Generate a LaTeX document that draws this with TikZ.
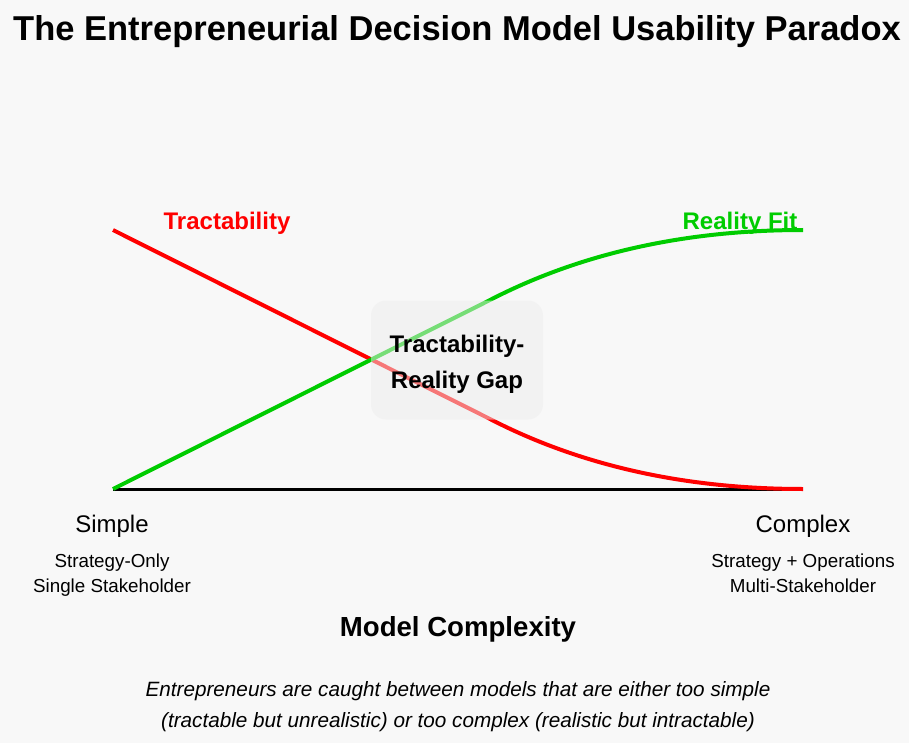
\documentclass[tikz,border=0pt]{standalone}
\usepackage{fontspec}
\setmainfont{Liberation Sans}
\usepackage{tikz}
\usetikzlibrary{positioning, calc}
\definecolor{bgcol}{HTML}{F8F8F8}
\definecolor{fitgreen}{HTML}{00CC00}
\definecolor{gapfill}{HTML}{EEEEEE}

\tikzset{
  curve/.style={line width=4pt},
  endlabel/.style={font=\fontsize{24}{28}\selectfont},
  sublabel/.style={font=\fontsize{18.8}{25}\selectfont, align=center},
}

\begin{document}
\begin{tikzpicture}[x=1pt, y=-1pt]
  \fill[bgcol] (0,0) rectangle (909,743);
  \useasboundingbox (0,0) rectangle (909,743);
  \node[font=\fontsize{34.5}{40}\selectfont\bfseries] (title) at (457,32)
    {The Entrepreneurial Decision Model Usability Paradox};

  % curve labels (under the curves)
  \node[font=\fontsize{24}{28}\selectfont\bfseries, text=red] (tlabel) at (227,223) {Tractability};
  \node[font=\fontsize{24}{28}\selectfont\bfseries, text=fitgreen] (flabel) at (740,223) {Reality Fit};

  % axis end points
  \coordinate (lo) at (113,489);
  \coordinate (hi) at (803,489);
  \coordinate (ltop) at (113,230);
  \coordinate (rtop) at (803,230);
  \draw[line width=3pt] (lo) -- (hi);

  % tractability falls, reality fit rises
  \draw[curve, red] (ltop) -- (490,419) .. controls (581,466) and (686,489) .. (hi);
  \draw[curve, fitgreen] (lo) -- (490,300) .. controls (581,253) and (686,230) .. (rtop);

  % gap box
  \node[draw=none, fill=gapfill, fill opacity=0.5, rounded corners=15pt,
        minimum width=172pt, minimum height=119pt] (gap) at (457,360) {};
  \node[font=\fontsize{24}{36}\selectfont\bfseries, align=center] (gaptext) at ([yshift=-4pt]gap.center) {Tractability-\\Reality Gap};

  % ends of the axis
  \node[endlabel] (simple) at (112,526) {Simple};
  \node[sublabel, below=10pt of simple] (simplesub) {Strategy-Only\\Single Stakeholder};
  \node[endlabel] (complex) at (803,526) {Complex};
  \node[sublabel, below=10pt of complex] (complexsub) {Strategy + Operations\\Multi-Stakeholder};

  \node[font=\fontsize{27.6}{32}\selectfont\bfseries] (axistitle) at (458,629) {Model Complexity};
  \node[font=\fontsize{20.7}{31}\selectfont\itshape, align=center] (caption) at (458,707)
    {Entrepreneurs are caught between models that are either too simple\\(tractable but unrealistic) or too complex (realistic but intractable)};
\end{tikzpicture}
\end{document}
